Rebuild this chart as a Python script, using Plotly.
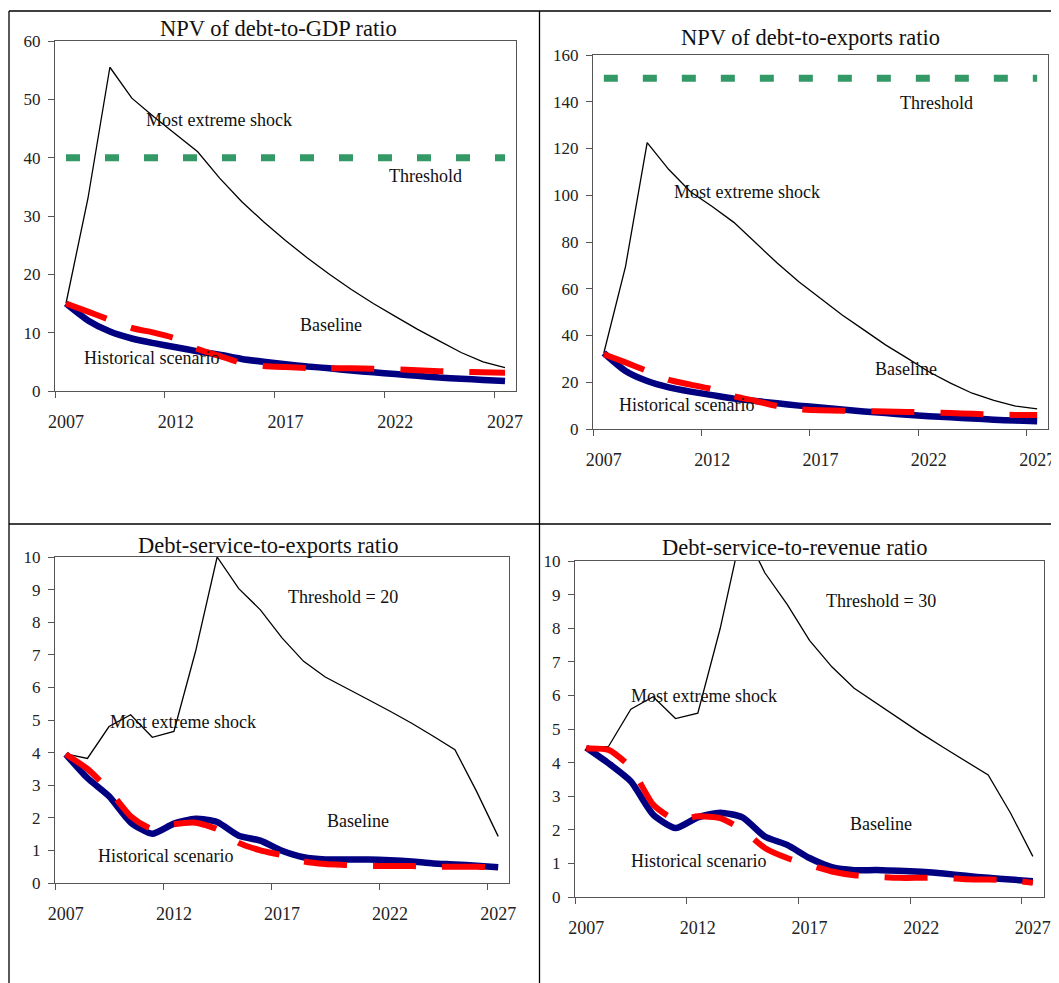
import plotly.graph_objects as go

years = list(range(2007, 2028))

# Panel 1: NPV of debt-to-GDP ratio
p1_baseline = [15, 12.1, 10.2, 9.0, 8.2, 7.5, 6.8, 6.2, 5.5, 5.0, 4.6, 4.2, 3.9, 3.5, 3.2, 2.9, 2.6, 2.3, 2.1, 1.9, 1.7]
p1_historical = [15, 13.6, 12.2, 10.8, 10.0, 9.0, 7.2, 6.0, 4.8, 4.3, 4.1, 3.95, 3.9, 3.9, 3.8, 3.75, 3.55, 3.4, 3.3, 3.2, 3.15]
p1_shock = [15, 33, 55.5, 50.2, 47, 44, 41, 36.5, 32.5, 29, 25.8, 22.8, 20, 17.4, 15, 12.8, 10.6, 8.6, 6.6, 5.0, 4.0]
p1_threshold = [40] * 21

# Panel 2: NPV of debt-to-exports ratio
p2_baseline = [32.5, 24.8, 20.5, 17.8, 16.0, 14.5, 13.0, 12.0, 11.0, 10.0, 9.2, 8.3, 7.5, 6.8, 6.1, 5.5, 5.0, 4.5, 4.0, 3.6, 3.3]
p2_historical = [32, 28.5, 24.8, 21.0, 19.0, 17.0, 14.0, 12.0, 9.8, 8.5, 8.0, 7.8, 7.6, 7.5, 7.3, 7.1, 6.8, 6.5, 6.2, 6.0, 6.0]
p2_shock = [32.5, 69.5, 122.5, 111, 101.5, 95.2, 88.4, 79.5, 71, 63, 56, 48.8, 42.4, 36, 30.3, 24.5, 19.6, 15.3, 12.2, 9.8, 8.6]
p2_threshold = [150] * 21

# Panel 3: Debt-service-to-exports ratio
p3_baseline = [3.95, 3.22, 2.66, 1.86, 1.51, 1.82, 1.97, 1.87, 1.45, 1.3, 0.99, 0.79, 0.72, 0.72, 0.72, 0.7, 0.66, 0.6, 0.57, 0.53, 0.48]
p3_historical = [3.95, 3.5, 2.85, 2.05, 1.65, 1.8, 1.85, 1.65, 1.23, 1.0, 0.85, 0.66, 0.58, 0.55, 0.52, 0.52, 0.52, 0.5, 0.5, 0.5, 0.48]
p3_shock = [3.96, 3.82, 4.8, 5.16, 4.47, 4.65, 7.1, 10.0, 9.03, 8.38, 7.52, 6.8, 6.32, 5.96, 5.62, 5.27, 4.9, 4.5, 4.09, 2.81, 1.43]

# Panel 4: Debt-service-to-revenue ratio
p4_baseline = [4.45, 3.98, 3.44, 2.45, 2.05, 2.37, 2.51, 2.37, 1.8, 1.55, 1.16, 0.89, 0.8, 0.8, 0.78, 0.75, 0.7, 0.63, 0.57, 0.52, 0.47]
p4_historical = [4.42, 4.38, 3.85, 2.75, 2.3, 2.4, 2.35, 2.0, 1.46, 1.16, 0.95, 0.76, 0.65, 0.6, 0.57, 0.57, 0.57, 0.53, 0.52, 0.5, 0.42]
p4_shock = [4.45, 4.48, 5.59, 5.96, 5.31, 5.47, 7.99, 11.0, 9.65, 8.71, 7.64, 6.85, 6.21, 5.76, 5.32, 4.87, 4.45, 4.03, 3.63, 2.5, 1.21]

titles = ["NPV of debt-to-GDP ratio", "NPV of debt-to-exports ratio",
          "Debt-service-to-exports ratio", "Debt-service-to-revenue ratio"]
year_labels = ["2007", "2012", "2017", "2022", "2027"]

W, H = 1059, 983
OFF = 8  # page body margin compensation
FONT = "Liberation Serif, Times New Roman, serif"
NAVY = "#000080"
RED = "#FF0000"
GREEN = "#339966"
AXC = "#555555"

def px(x):
    return (x - OFF) / W

def py(y):
    return 1 - (y - OFF) / H

# plot rectangles in pixels: left, right, top, bottom
rects = [(55, 516, 41, 391), (593, 1048, 55, 429), (55, 509, 557, 883), (575, 1044, 561, 897)]
yranges = [[0, 60], [0, 160], [0, 10], [0, 10]]
ydticks = [10, 20, 1, 1]

panels = [
    (p1_baseline, p1_historical, p1_shock, p1_threshold),
    (p2_baseline, p2_historical, p2_shock, p2_threshold),
    (p3_baseline, p3_historical, p3_shock, None),
    (p4_baseline, p4_historical, p4_shock, None),
]

fig = go.Figure()
layout = dict(
    width=W, height=H, margin=dict(l=0, r=0, t=0, b=0, pad=0, autoexpand=False),
    paper_bgcolor="white", plot_bgcolor="white", showlegend=False,
    font=dict(family=FONT, size=17, color="#222222"),
)

for i, (base, hist, shock, thr) in enumerate(panels):
    n = i + 1
    xa = "x" if n == 1 else f"x{n}"
    ya = "y" if n == 1 else f"y{n}"
    if thr is not None:
        fig.add_trace(go.Scatter(x=years, y=thr, xaxis=xa, yaxis=ya, mode="lines",
                                 line=dict(color=GREEN, width=7, dash="14px,25px"), name="Threshold"))
    fig.add_trace(go.Scatter(x=years, y=shock, xaxis=xa, yaxis=ya, mode="lines",
                             line=dict(color="#000000", width=1.3), name="Most extreme shock"))
    fig.add_trace(go.Scatter(x=years, y=base, xaxis=xa, yaxis=ya, mode="lines",
                             line=dict(color=NAVY, width=6.5, shape="spline", smoothing=0.6), name="Baseline"))
    fig.add_trace(go.Scatter(x=years, y=hist, xaxis=xa, yaxis=ya, mode="lines",
                             line=dict(color=RED, width=6, dash="43px,26px", shape="spline", smoothing=0.6),
                             name="Historical scenario"))

    l, r, t, b = rects[i]
    xkey = "xaxis" if n == 1 else f"xaxis{n}"
    ykey = "yaxis" if n == 1 else f"yaxis{n}"
    layout[xkey] = dict(
        domain=[px(l), px(r)], anchor=ya, range=[2006.5, 2027.5], automargin=False,
        tickmode="array", tickvals=[2007, 2012, 2017, 2022, 2027], ticktext=year_labels,
        ticks="", showgrid=False, zeroline=False,
        showline=True, mirror=True, linecolor=AXC, linewidth=1,
        ticklabelstandoff=14, tickfont=dict(size=18, family=FONT, color="#222222"),
        minor=dict(ticks="outside", tickmode="linear", tick0=2006.5, dtick=5, ticklen=6,
                   tickcolor=AXC, tickwidth=1, showgrid=False),
    )
    layout[ykey] = dict(
        domain=[py(b), py(t)], anchor=xa, range=yranges[i], dtick=ydticks[i], automargin=False,
        ticks="outside", ticklen=6, tickcolor=AXC, tickwidth=1,
        showgrid=False, zeroline=False,
        showline=True, mirror=True, linecolor=AXC, linewidth=1,
        ticklabelstandoff=4, tickfont=dict(size=17, family=FONT, color="#222222"),
    )

layout["annotations"] = []
title_pos = [(278, 28), (810, 38), (268, 545), (795, 547)]
for i, (cx, cy) in enumerate(title_pos):
    layout["annotations"].append(dict(
        text=titles[i], x=px(cx), y=py(cy), xref="paper", yref="paper",
        xanchor="center", yanchor="middle", showarrow=False,
        font=dict(family=FONT, size=22.5, color="#111111")))

labels = [
    ("Most extreme shock", 144, 120), ("Threshold", 387, 176), ("Baseline", 298, 325), ("Historical scenario", 82, 358),
    ("Threshold", 898, 103), ("Most extreme shock", 672, 192), ("Baseline", 873, 369), ("Historical scenario", 617, 405),
    ("Threshold = 20", 286, 597), ("Most extreme shock", 108, 722), ("Baseline", 325, 821), ("Historical scenario", 96, 856),
    ("Threshold = 30", 824, 601), ("Most extreme shock", 629, 696), ("Baseline", 848, 824), ("Historical scenario", 629, 861),
]
for txt, lx, ly in labels:
    layout["annotations"].append(dict(
        text=txt, x=px(lx), y=py(ly), xref="paper", yref="paper",
        xanchor="left", yanchor="middle", showarrow=False,
        font=dict(family=FONT, size=18, color="#111111")))

frame = dict(type="line", xref="paper", yref="paper", line=dict(color="black", width=1.3))
layout["shapes"] = [
    dict(frame, x0=px(9), x1=1, y0=py(11), y1=py(11)),
    dict(frame, x0=px(9), x1=px(9), y0=py(11), y1=0),
    dict(frame, x0=px(539.5), x1=px(539.5), y0=py(11), y1=0),
    dict(frame, x0=px(9), x1=1, y0=py(524), y1=py(524)),
]

fig.update_layout(**layout)
fig.write_html("out.html")
